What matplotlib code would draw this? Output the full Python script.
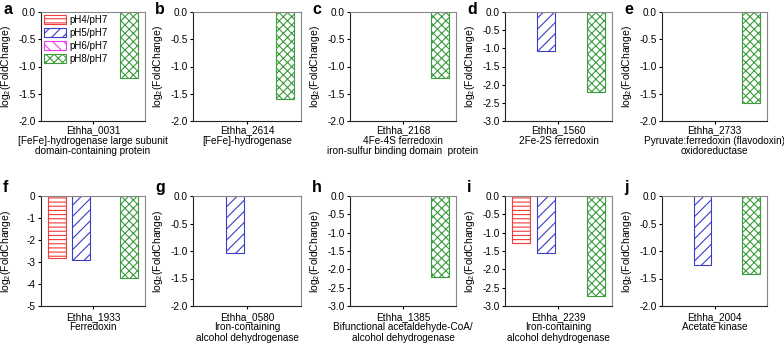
import matplotlib
matplotlib.use("Agg")
import matplotlib.pyplot as plt
from matplotlib.patches import Patch
import numpy as np

plt.rcParams['font.family'] = ['Liberation Sans', 'DejaVu Sans']
plt.rcParams['mathtext.fontset'] = 'custom'
plt.rcParams['mathtext.rm'] = 'Liberation Sans'
plt.rcParams['mathtext.it'] = 'Liberation Sans'
plt.rcParams['mathtext.default'] = 'regular'
plt.rcParams['hatch.linewidth'] = 0.8

series = ['pH4/pH7', 'pH5/pH7', 'pH6/pH7', 'pH8/pH7']
colors = ['#f03c3c', '#3c3cc8', '#f03cf0', '#3c9c3c']
hatches = ['----', '///', '\\\\\\', 'xxxx']

panel_letters = ['a', 'b', 'c', 'd', 'e', 'f', 'g', 'h', 'i', 'j']
gene_labels = [
    "Ethha_0031\n[FeFe]-hydrogenase large subunit\ndomain-containing protein",
    "Ethha_2614\n[FeFe]-hydrogenase",
    "Ethha_2168\n4Fe-4S ferredoxin\niron-sulfur binding domain  protein",
    "Ethha_1560\n2Fe-2S ferredoxin",
    "Ethha_2733\nPyruvate:ferredoxin (flavodoxin)\noxidoreductase",
    "Ethha_1933\nFerredoxin",
    "Ethha_0580\nIron-containing\nalcohol dehydrogenase",
    "Ethha_1385\nBifunctional acetaldehyde-CoA/\nalcohol dehydrogenase",
    "Ethha_2239\nIron-containing\nalcohol dehydrogenase",
    "Ethha_2004\nAcetate kinase",
]
# values per panel: [pH4, pH5, pH6, pH8] (0 = no bar)
values = [
    [0, 0, 0, -1.22],
    [0, 0, 0, -1.60],
    [0, 0, 0, -1.22],
    [0, -1.07, 0, -2.20],
    [0, 0, 0, -1.67],
    [-2.82, -2.91, 0, -3.73],
    [0, -1.03, 0, 0],
    [0, 0, 0, -2.22],
    [-1.29, -1.55, 0, -2.72],
    [0, -1.25, 0, -1.41],
]
y_min = [-2, -2, -2, -3, -2, -5, -2, -3, -3, -2]
y_step = [0.5, 0.5, 0.5, 0.5, 0.5, 1, 0.5, 0.5, 0.5, 0.5]

W, H = 784, 343
fig = plt.figure(figsize=(W / 100, H / 100), dpi=100)

col_lr = [(41, 145), (193, 301), (350, 456), (505, 612), (662, 767)]
row_tb = [(12, 121), (196, 306)]
letter_y = [2, 180]
label_fs = [6.5, 7, 6.8, 7, 7, 7, 7, 7, 7, 7]

for i in range(10):
    r, c = divmod(i, 5)
    l, rr = col_lr[c]
    t, b = row_tb[r]
    ax = fig.add_axes([l / W, 1 - b / H, (rr - l) / W, (b - t) / H])
    x = np.arange(4)
    for k in range(4):
        v = values[i][k]
        if v != 0:
            ax.bar(x[k], v, width=0.72, facecolor='white', edgecolor=colors[k],
                   hatch=hatches[k], linewidth=0.8, zorder=2)
    ax.set_xlim(-0.66, 3.66)
    ax.set_ylim(y_min[i], 0)
    ticks = np.arange(y_min[i], 0.001, y_step[i])
    ax.set_yticks(ticks)
    if y_step[i] == 1:
        ax.set_yticklabels([f"{v:.0f}" for v in ticks])
    else:
        ax.set_yticklabels([f"{v:.1f}" for v in ticks])
    ax.set_xticks([1.5])
    ax.set_xticklabels([gene_labels[i]], fontsize=label_fs[i], linespacing=1.05)
    ax.tick_params(axis='both', direction='out', length=2.5, width=0.8, labelsize=7.2, pad=1.5)
    ax.tick_params(axis='x', pad=0.8 if r == 0 else 1.8)
    ax.set_ylabel(r'log$_2$(FoldChange)', fontsize=7.5)
    ax.yaxis.set_label_coords(-28 / (rr - l), 0.5)
    for s in ['left', 'bottom']:
        ax.spines[s].set_color('#222222')
        ax.spines[s].set_linewidth(0.8)
    for s in ['top', 'right']:
        ax.spines[s].set_color('#888888')
        ax.spines[s].set_linewidth(0.8)
    fig.text((l - 38) / W, 1 - letter_y[r] / H, panel_letters[i], fontsize=11.5,
             fontweight='bold', ha='left', va='top')
    if i == 0:
        handles = [Patch(facecolor='white', edgecolor=colors[k], hatch=hatches[k], linewidth=0.8)
                   for k in range(4)]
        ax.legend(handles, series, loc='upper left', frameon=False, fontsize=7,
                  handlelength=2.3, handleheight=1.0, handletextpad=0.3,
                  labelspacing=0.3, borderaxespad=0.15, borderpad=0.15)

fig.savefig('out.png', dpi=100)
